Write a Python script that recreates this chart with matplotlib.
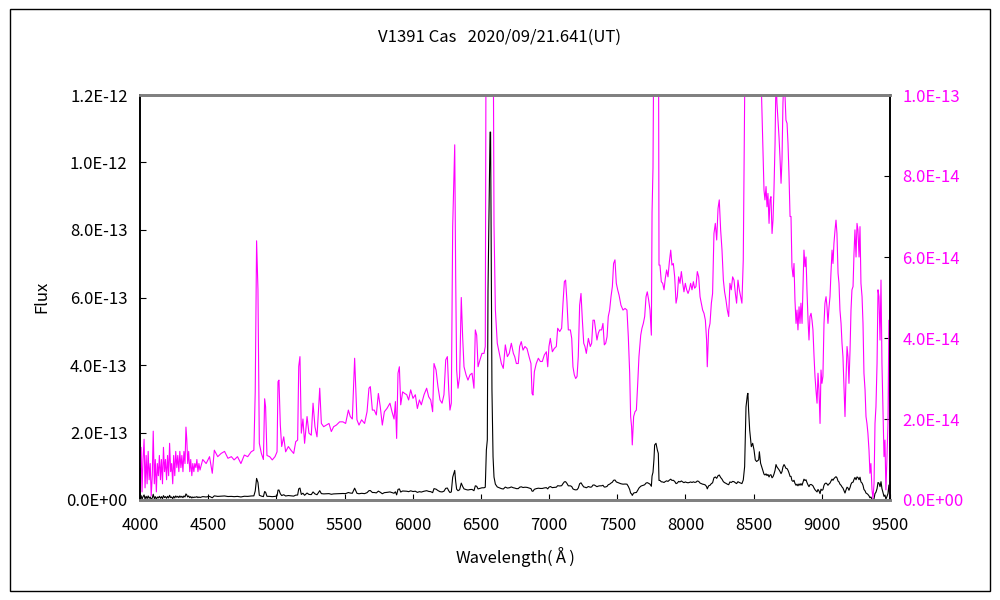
import numpy as np
import matplotlib.pyplot as plt
from matplotlib.ticker import FuncFormatter, MultipleLocator
from matplotlib.patches import Rectangle

plt.rcParams['font.family'] = ['Noto Sans CJK JP', 'DejaVu Sans']

# V1391 Cas のスペクトル（読み取り値、単位 1e-14）
wave = [
    4000, 4008, 4015, 4022, 4030, 4037, 4045, 4052, 4060, 4067, 4075, 4082, 4090, 4097,
    4105, 4112, 4120, 4127, 4135, 4142, 4150, 4157, 4165, 4172, 4180, 4187, 4195, 4202,
    4210, 4217, 4225, 4232, 4240, 4247, 4255, 4262, 4270, 4277, 4285, 4292, 4300, 4307,
    4315, 4322, 4330, 4337, 4343, 4350, 4357, 4365, 4372, 4380, 4387, 4395, 4402, 4410,
    4417, 4425, 4432, 4440, 4460, 4485, 4510, 4530, 4545, 4570, 4595, 4620, 4645, 4670,
    4690, 4715, 4740, 4765, 4790, 4815, 4835, 4845, 4855, 4865, 4875, 4890, 4905, 4914,
    4921, 4931, 4951, 4970, 4990, 5005, 5012, 5019, 5029, 5039, 5054, 5068, 5088, 5107,
    5127, 5142, 5156, 5164, 5173, 5183, 5195, 5207, 5225, 5239, 5256, 5269, 5283, 5298,
    5318, 5330, 5347, 5366, 5386, 5403, 5420, 5440, 5464, 5488, 5508, 5528, 5542, 5557,
    5567, 5574, 5581, 5591, 5606, 5625, 5647, 5665, 5679, 5689, 5704, 5718, 5733, 5748,
    5762, 5777, 5792, 5811, 5833, 5848, 5863, 5873, 5882, 5892, 5902, 5912, 5926, 5941,
    5956, 5970, 5985, 6002, 6019, 6034, 6049, 6063, 6083, 6102, 6117, 6132, 6146, 6156,
    6171, 6185, 6200, 6215, 6229, 6242, 6254, 6264, 6273, 6283, 6293, 6300, 6308, 6315,
    6322, 6332, 6344, 6356, 6366, 6376, 6391, 6405, 6420, 6435, 6449, 6459, 6469, 6479,
    6493, 6508, 6523, 6532, 6540, 6547, 6552, 6557, 6562, 6567, 6571, 6577, 6581, 6589,
    6596, 6606, 6620, 6635, 6650, 6664, 6679, 6694, 6708, 6723, 6738, 6748, 6760, 6774,
    6784, 6796, 6809, 6823, 6838, 6853, 6867, 6875, 6882, 6892, 6906, 6921, 6936, 6950,
    6965, 6980, 6990, 6999, 7009, 7024, 7038, 7053, 7063, 7078, 7092, 7102, 7112, 7121,
    7131, 7141, 7156, 7166, 7175, 7185, 7195, 7205, 7214, 7224, 7234, 7244, 7254, 7263,
    7273, 7288, 7302, 7312, 7322, 7332, 7341, 7351, 7361, 7371, 7385, 7395, 7405, 7415,
    7425, 7434, 7444, 7454, 7464, 7473, 7483, 7493, 7503, 7513, 7527, 7542, 7557, 7571,
    7581, 7591, 7598, 7605, 7610, 7620, 7630, 7640, 7650, 7659, 7672, 7681, 7691, 7701,
    7711, 7720, 7730, 7740, 7750, 7755, 7762, 7769, 7774, 7784, 7794, 7801, 7806, 7813,
    7823, 7833, 7843, 7852, 7862, 7872, 7882, 7892, 7901, 7911, 7921, 7931, 7940, 7950,
    7960, 7970, 7980, 7989, 7999, 8009, 8019, 8028, 8038, 8048, 8058, 8067, 8077, 8087,
    8097, 8107, 8116, 8126, 8136, 8146, 8155, 8160, 8170, 8180, 8190, 8199, 8209, 8219,
    8229, 8239, 8248, 8258, 8268, 8278, 8287, 8297, 8307, 8317, 8326, 8336, 8346, 8356,
    8366, 8375, 8385, 8395, 8405, 8414, 8424, 8434, 8444, 8454, 8458, 8463, 8471, 8483,
    8493, 8503, 8512, 8522, 8537, 8542, 8551, 8566, 8576, 8583, 8591, 8598, 8605, 8613,
    8620, 8627, 8635, 8642, 8649, 8657, 8664, 8671, 8679, 8686, 8693, 8701, 8708, 8715,
    8723, 8730, 8737, 8745, 8752, 8759, 8767, 8774, 8781, 8789, 8796, 8803, 8811, 8818,
    8825, 8833, 8840, 8847, 8855, 8862, 8869, 8877, 8884, 8891, 8899, 8906, 8913, 8921,
    8928, 8935, 8943, 8950, 8957, 8965, 8972, 8979, 8987, 8994, 9001, 9008, 9016, 9023,
    9031, 9038, 9045, 9053, 9060, 9067, 9075, 9082, 9089, 9097, 9104, 9111, 9119, 9126,
    9133, 9141, 9148, 9155, 9163, 9170, 9177, 9185, 9192, 9199, 9207, 9214, 9221, 9229,
    9236, 9243, 9251, 9258, 9265, 9273, 9280, 9287, 9295, 9302, 9309, 9317, 9324, 9331,
    9338, 9346, 9353, 9360, 9368, 9375, 9383, 9390, 9397, 9405, 9412, 9419, 9427, 9434,
    9441, 9448, 9456, 9463, 9470, 9478, 9485, 9492, 9500,
]

flux14 = [
    0.8, 1.3, 0.2, 1.0, 1.5, 0.3, 1.1, 0.4, 1.2, 0.5, 0.9, 0.1, 0.6, 1.7,
    0.4, 1.0, 0.2, 0.9, 0.6, 1.1, 0.5, 1.0, 0.4, 1.3, 0.7, 1.0, 0.5, 1.1,
    0.6, 1.4, 0.7, 0.9, 0.4, 1.1, 0.6, 1.2, 0.8, 1.1, 0.7, 1.2, 0.8, 1.1,
    0.7, 1.2, 0.9, 1.8, 1.5, 0.9, 1.2, 0.7, 1.0, 0.6, 0.9, 0.7, 0.9, 0.8,
    1.0, 0.7, 0.9, 0.74, 1.0, 0.9, 1.07, 0.66, 1.23, 1.07, 1.15, 1.2, 1.03, 1.07,
    0.99, 1.07, 0.9, 1.11, 1.07, 1.19, 1.23, 2.67, 6.4, 5.2, 1.4, 1.15, 1.0, 2.5,
    2.3, 1.1, 1.07, 0.99, 1.07, 1.19, 2.92, 2.96, 1.85, 1.32, 1.56, 1.19, 1.32, 1.23,
    1.15, 1.44, 1.48, 3.3, 3.54, 1.65, 2.0, 1.4, 2.06, 1.65, 1.6, 2.39, 1.81, 1.56,
    2.76, 1.89, 1.81, 1.85, 1.89, 1.69, 1.81, 1.85, 1.93, 1.93, 1.89, 2.22, 2.06, 2.0,
    2.88, 3.5, 2.88, 1.98, 1.85, 1.98, 1.89, 2.18, 2.76, 2.8, 2.22, 2.22, 2.1, 2.63,
    2.3, 1.85, 2.18, 2.26, 2.39, 2.18, 2.0, 2.43, 1.52, 3.13, 3.29, 2.35, 2.67, 2.63,
    2.6, 2.47, 2.72, 2.51, 2.6, 2.26, 2.47, 2.35, 2.6, 2.76, 2.55, 2.47, 2.18, 3.37,
    3.21, 2.8, 2.47, 2.39, 2.6, 3.46, 3.54, 2.72, 2.22, 2.39, 6.75, 7.65, 8.77, 5.5,
    3.21, 2.76, 3.05, 5.0, 4.03, 3.29, 3.09, 2.96, 3.09, 3.13, 2.76, 4.2, 4.07, 3.29,
    3.46, 3.62, 3.62, 3.79, 14.8, 17.8, 62, 77, 90, 109, 109, 62, 32.6, 12.8,
    6.8, 4.7, 3.87, 3.62, 3.37, 3.25, 3.83, 3.54, 3.62, 3.87, 3.62, 3.54, 3.37, 3.37,
    3.79, 3.91, 3.7, 3.79, 3.74, 3.54, 3.37, 2.63, 2.59, 3.17, 3.37, 3.5, 3.42, 3.42,
    3.58, 3.66, 3.29, 3.79, 3.99, 3.66, 3.74, 3.79, 4.24, 4.16, 4.24, 4.86, 5.39, 5.43,
    4.9, 4.2, 4.2, 3.99, 3.29, 3.09, 3.0, 3.05, 3.54, 4.81, 5.1, 4.44, 3.87, 3.79,
    3.62, 3.99, 3.79, 3.87, 4.44, 4.44, 4.2, 3.95, 4.12, 4.2, 4.2, 4.36, 3.83, 3.87,
    4.03, 4.53, 4.69, 5.02, 5.27, 5.84, 5.93, 5.35, 5.19, 5.06, 4.81, 4.69, 4.73, 4.69,
    4.03, 3.13, 2.06, 1.81, 1.36, 2.06, 2.18, 2.22, 2.88, 3.54, 4.07, 4.24, 4.36, 4.53,
    5.02, 5.14, 4.94, 4.69, 4.07, 7.1, 8.2, 12.0, 16.3, 16.8, 14.8, 13.8, 5.8, 5.8,
    5.39, 5.35, 5.19, 5.47, 5.68, 5.51, 5.88, 6.17, 5.8, 5.84, 5.51, 4.86, 5.02, 5.51,
    5.35, 5.64, 5.35, 5.14, 5.35, 5.19, 5.1, 5.19, 5.35, 5.19, 5.39, 5.23, 5.27, 5.64,
    5.51, 5.02, 4.86, 4.69, 4.61, 4.44, 3.95, 3.29, 4.2, 4.36, 4.86, 5.1, 6.58, 6.83,
    6.42, 7.2, 7.41, 6.67, 6.17, 5.43, 5.14, 4.94, 4.69, 4.53, 5.35, 5.19, 5.51, 5.43,
    5.1, 4.86, 5.43, 5.19, 5.02, 4.86, 5.93, 9.9, 27.6, 31.1, 31.6, 26.7, 20.7, 15.8,
    16.8, 14.8, 11.9, 11.4, 11.9, 14.3, 10.9, 8.9, 7.65, 7.41, 7.74, 7.24, 7.57, 6.83,
    7.41, 7.49, 6.58, 6.91, 7.65, 8.8, 10.5, 9.8, 9.38, 8.97, 8.48, 7.82, 8.4, 9.8,
    10.5, 10.0, 9.38, 9.3, 8.8, 8.07, 7.0, 7.0, 5.76, 5.51, 5.84, 4.94, 4.36, 4.69,
    4.2, 4.77, 4.36, 4.86, 4.36, 5.27, 6.17, 5.76, 6.0, 5.19, 4.44, 3.95, 4.53, 4.61,
    4.44, 4.2, 3.54, 3.05, 2.72, 2.39, 3.13, 2.72, 1.89, 3.21, 2.88, 3.05, 4.36, 4.86,
    5.02, 4.77, 4.36, 4.77, 5.02, 5.6, 6.17, 5.84, 6.34, 6.67, 6.91, 6.58, 5.6, 5.35,
    4.69, 4.36, 3.87, 3.54, 2.72, 2.06, 2.96, 3.79, 3.54, 2.88, 3.7, 4.69, 5.19, 5.27,
    6.09, 6.67, 6.0, 6.83, 6.67, 6.0, 6.75, 5.35, 5.02, 4.36, 3.13, 2.72, 2.06, 1.89,
    1.65, 1.23, 0.66, 0.9, 0.25, 0.04, 0.41, 1.89, 2.3, 3.37, 5.19, 5.02, 3.95, 5.43,
    3.37, 2.3, 1.07, 1.48, 0.25, 1.07, 1.89, 4.44, 0.08,
]

flux = np.array(flux14) * 1e-14

xticks = [4000, 4500, 5000, 5500, 6000, 6500, 7000, 7500, 8000, 8500, 9000, 9500]

fig = plt.figure(figsize=(10, 6), dpi=100)
ax = fig.add_axes([0.14, 1 - 500 / 600, 0.75, 405 / 600])
ax2 = ax.twinx()

ax.plot(wave, flux, color='black', lw=0.8)
ax2.plot(wave, flux, color='#ff00ff', lw=0.8)

ax.set_xlim(4000, 9500)
ax.set_ylim(0, 1.2e-12)
ax2.set_ylim(0, 1.0e-13)
ax.set_xticks(xticks)
ax.yaxis.set_major_locator(MultipleLocator(2e-13))
ax2.yaxis.set_major_locator(MultipleLocator(2e-14))

fmt = FuncFormatter(lambda v, p: f"{v:.1E}")
ax.yaxis.set_major_formatter(fmt)
ax2.yaxis.set_major_formatter(fmt)

ax.tick_params(axis='y', direction='in', length=4, labelsize=12, pad=9)
ax.tick_params(axis='x', direction='in', length=4, labelsize=12, pad=12)
ax2.tick_params(axis='y', direction='in', length=4, labelsize=12, pad=9,
                labelcolor='#ff00ff')

for a in (ax, ax2):
    a.spines['top'].set_color('#808080')
    a.spines['top'].set_linewidth(2)
    a.spines['bottom'].set_color('#808080')
    a.spines['bottom'].set_linewidth(2)
    a.spines['left'].set_linewidth(1.2)
    a.spines['right'].set_linewidth(1.2)

fig.text(0.499, 1 - 37 / 600, 'V1391 Cas   2020/09/21.641(UT)',
         ha='center', va='center', fontsize=12)
fig.text(0.515, 1 - 557 / 600, 'Wavelength(\u212b)', ha='center', va='center', fontsize=12)
fig.text(0.042, 1 - 297 / 600, 'Flux', ha='center', va='center', rotation=90, fontsize=12)

fig.patches.append(Rectangle((0.01, 0.015), 0.98, 0.97, transform=fig.transFigure,
                             fill=False, edgecolor='black', lw=1))

fig.savefig('out.png', dpi=100)
